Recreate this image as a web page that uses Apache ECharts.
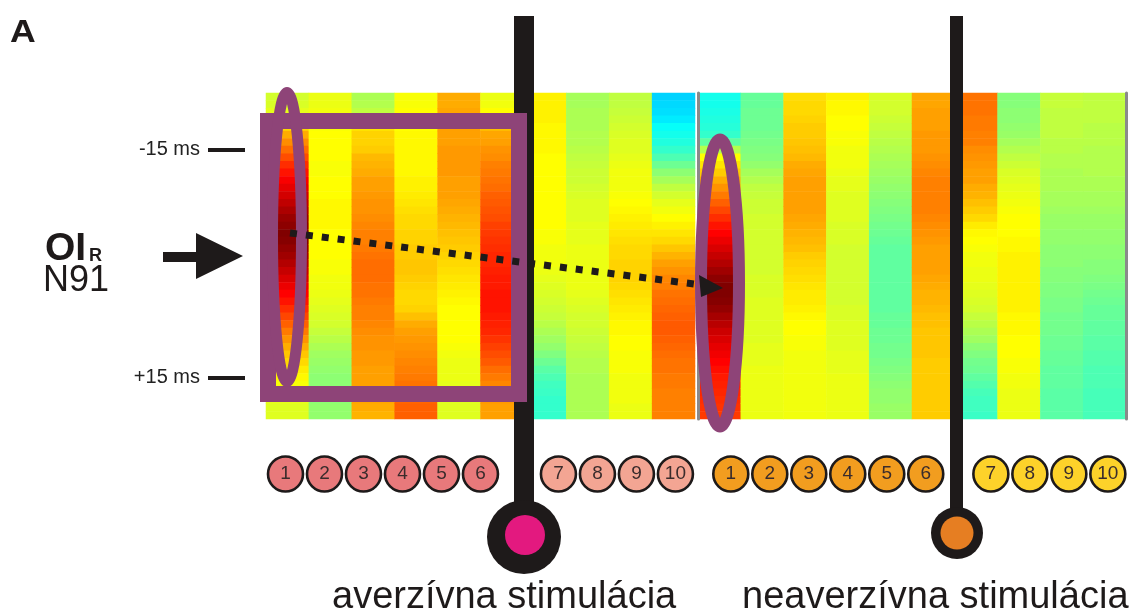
<!DOCTYPE html>
<html>
<head>
<meta charset="utf-8">
<script src="https://cdn.jsdelivr.net/npm/echarts@6/dist/echarts.min.js"></script>
<style>
  html, body { margin: 0; padding: 0; background: #ffffff; }
  #chart { width: 1130px; height: 612px; }
</style>
</head>
<body>
<div id="chart"></div>
<script>
// Time bins (ms) of the cross-correlogram, one heatmap row per bin
const timeBins = [-22, -21, -20, -19, -18, -17, -16, -15, -14, -13, -12, -11, -10, -9, -8, -7, -6, -5, -4, -3, -2,
  -1, 0, 1, 2, 3, 4, 5, 6, 7, 8, 9, 10, 11, 12, 13, 14, 15, 16, 17, 18, 19, 20];

// Session numbers shown under each block
const sessions = ['1', '2', '3', '4', '5', '6', '7', '8', '9', '10'];

// Labelled time ticks
const tickBins = [-15, 15];

// Normalised correlation per session (columns) and time bin (rows) – aversive stimulation block
const aversive = [
  [33,34,36,40,46,53,58,63,68,73,77,81,84,87,90,93,96,98,100,99,97,95,92,89,86,83,80,77,73,69,65,61,57,53,49,46,43,41,39,37,36,35,35],
  [37,37,38,39,39,40,40,40,40,39,39,40,40,40,41,41,41,41,40,40,40,40,39,39,38,38,37,36,35,34,33,31,29,27,25,24,23,22,22,22,22,23,23],
  [27,28,30,38,44,47,47,48,51,52,53,55,55,56,57,57,58,59,60,60,61,62,63,63,63,62,62,61,60,60,59,58,57,57,56,56,55,55,55,54,54,53,52],
  [39,39,40,40,40,41,41,41,41,41,41,42,42,43,44,45,46,46,47,47,48,48,49,49,48,47,46,46,47,50,53,55,56,57,58,59,60,61,62,63,64,65,65],
  [53,53,54,55,55,55,55,56,56,56,56,55,55,55,54,53,52,51,50,49,48,47,46,45,44,43,42,41,40,40,40,40,40,39,38,37,37,37,36,36,35,35,35],
  [37,38,40,45,50,54,55,57,58,60,61,62,63,65,66,67,68,70,71,72,73,74,74,75,76,76,77,77,77,76,75,74,72,70,68,66,63,61,59,57,56,55,55],
  [42,42,42,42,41,41,41,41,40,40,40,40,40,40,40,40,40,40,39,39,38,38,38,37,36,35,34,33,32,31,29,27,25,23,20,17,14,12,10,9,8,8,8],
  [26,26,27,27,27,28,28,29,30,31,32,32,33,34,35,35,35,36,36,36,37,37,37,37,37,37,36,35,34,33,33,32,31,30,29,28,28,27,27,27,27,27,27],
  [30,30,31,32,33,34,35,35,36,37,38,38,38,39,40,41,42,43,44,45,46,46,47,47,47,46,45,44,43,42,41,41,40,40,39,39,39,38,38,38,38,37,37],
  [-7,-6,-5,-3,1,3,5,8,12,17,22,26,30,33,36,38,40,42,44,46,49,52,55,57,59,60,62,63,64,65,66,66,65,64,63,62,62,61,61,60,60,60,60]
];

// Same layout – non-aversive stimulation block
const nonAversive = [
  [3,3,4,5,6,8,15,28,40,44,48,53,57,61,65,69,73,77,80,83,86,89,92,95,98,100,100,99,97,94,91,88,86,84,82,80,78,76,75,74,73,72,71],
  [16,16,17,17,17,18,19,20,21,23,26,28,30,31,32,32,33,33,33,33,33,33,33,33,34,34,34,35,35,35,35,35,35,36,36,36,37,37,37,37,37,37,37],
  [45,46,46,47,48,48,49,50,51,53,54,55,55,55,55,55,54,53,52,51,50,48,47,46,45,44,43,43,42,41,40,40,39,39,38,38,38,38,38,38,38,38,38],
  [42,41,41,40,40,39,39,38,38,38,37,36,36,35,35,35,35,34,34,34,33,33,33,33,33,33,33,33,34,34,35,35,35,35,36,36,36,37,37,37,37,37,37],
  [34,33,33,32,31,30,29,28,27,26,25,24,23,22,21,20,19,18,17,16,15,15,15,15,15,15,15,15,15,16,16,17,17,18,18,19,20,21,22,23,23,24,24],
  [54,54,55,55,55,56,56,56,57,58,59,60,60,60,60,60,59,58,57,56,55,55,55,55,54,53,52,52,51,50,50,49,49,49,49,48,48,48,48,48,48,48,48],
  [62,62,62,61,61,60,60,58,57,56,55,55,53,52,50,48,46,43,41,40,39,38,38,37,37,36,35,34,33,31,29,27,25,22,20,18,17,15,13,11,10,10,9],
  [21,21,22,22,23,24,26,28,30,32,34,35,36,37,38,39,40,40,40,41,41,42,42,42,42,42,42,42,42,41,41,41,40,40,40,39,39,38,38,37,37,37,37],
  [31,31,30,30,30,30,29,29,28,28,27,27,27,26,26,25,24,24,23,23,22,22,22,21,21,20,20,19,19,18,18,18,17,17,16,16,15,15,15,14,14,14,14],
  [30,30,30,30,29,29,29,28,28,28,28,27,27,26,26,25,24,24,23,23,22,22,21,21,20,19,18,17,16,16,15,15,14,14,13,13,12,12,12,11,11,11,11]
];

// ---- layout / style constants ----
const FONT = '"Liberation Sans", Arial, Helvetica, sans-serif';
const INK = '#1e1a1a';
const PURPLE = '#8e4478';
const GRID_TOP = 93, GRID_H = 326;

function cells(block) {
  const out = [];
  block.forEach((col, c) => col.forEach((v, r) => out.push([c, r, v])));
  return out;
}

// bead row: one slot per session, a gap after session 6
const beadColorsAversive = ['#e8797b', '#f3a593'];
const beadColorsNonAversive = ['#f29d1f', '#fdd22a'];
function beads(offset, gap, colors) {
  return sessions.map((s, i) => {
    const k = i + 1;
    return {
      name: s,
      value: [offset + i + (k > 6 ? gap : 0), 0],
      itemStyle: { color: k > 6 ? colors[1] : colors[0] }
    };
  });
}

const chart = echarts.init(document.getElementById('chart'), null, { renderer: 'canvas' });

const isTick = (idx) => tickBins.indexOf(timeBins[idx]) !== -1;

const option = {
  backgroundColor: '#ffffff',
  animation: false,
  grid: [
    { left: 266, top: GRID_TOP, width: 429, height: GRID_H },
    { left: 698, top: GRID_TOP, width: 428, height: GRID_H },
    { left: 266, top: 455, width: 859, height: 38 }
  ],
  xAxis: [
    { type: 'category', gridIndex: 0, data: sessions, show: false },
    { type: 'category', gridIndex: 1, data: sessions, show: false },
    { type: 'value', gridIndex: 2, min: -0.5, max: 21.53, show: false }
  ],
  yAxis: [
    {
      type: 'category', gridIndex: 0, data: timeBins, inverse: true, offset: 21, z: 10,
      axisLine: { show: false },
      axisTick: { show: true, alignWithLabel: true, interval: isTick, length: 37,
                  lineStyle: { color: INK, width: 4 } },
      axisLabel: { show: true, interval: isTick, margin: 45, fontFamily: FONT, fontSize: 20, color: '#222',
                   formatter: (v) => (Number(v) > 0 ? '+' + v : v) + ' ms' },
      splitLine: { show: false }
    },
    {
      type: 'category', gridIndex: 1, data: timeBins, inverse: true, position: 'left', z: 10,
      axisLine: { show: true, lineStyle: { color: '#8a8a8a', width: 3 } },
      axisTick: { show: false }, axisLabel: { show: false }, splitLine: { show: false }
    },
    {
      type: 'category', gridIndex: 1, data: timeBins, inverse: true, position: 'right', z: 10,
      axisLine: { show: true, lineStyle: { color: '#8a8a8a', width: 3 } },
      axisTick: { show: false }, axisLabel: { show: false }, splitLine: { show: false }
    },
    { type: 'value', gridIndex: 2, min: -1, max: 1, show: false }
  ],
  visualMap: {
    type: 'continuous', show: false, dimension: 2, seriesIndex: [0, 1],
    min: -20, max: 100,
    inRange: { color: ['#0080ff', '#00ffff', '#80ff80', '#ffff00', '#ff8000', '#ff0000', '#800000'] }
  },
  series: [
    {
      name: 'averzívna', type: 'heatmap', xAxisIndex: 0, yAxisIndex: 0,
      data: cells(aversive), itemStyle: { borderWidth: 0 }, emphasis: { disabled: true }
    },
    {
      name: 'neaverzívna', type: 'heatmap', xAxisIndex: 1, yAxisIndex: 1,
      data: cells(nonAversive), itemStyle: { borderWidth: 0 }, emphasis: { disabled: true }
    },
    {
      name: 'sessions', type: 'scatter', xAxisIndex: 2, yAxisIndex: 3,
      symbol: 'circle', symbolSize: 35, z: 5,
      data: beads(0, 1, beadColorsAversive).concat(beads(11.42, 0.67, beadColorsNonAversive)),
      itemStyle: { borderColor: INK, borderWidth: 2.6, opacity: 1 },
      label: { show: true, position: 'inside', formatter: '{b}', fontFamily: FONT, fontSize: 19, color: '#3a2c2c' },
      emphasis: { disabled: true }
    }
  ],
  graphic: [
    // panel letter
    { type: 'text', z: 100, x: 10, y: 33, scaleX: 1.15,
      style: { x: 0, y: 0, text: 'A', font: 'bold 31px ' + FONT, fill: INK, verticalAlign: 'middle' } },
    // neuron pair label
    { type: 'text', z: 100, style: { x: 45, y: 249, text: 'OI', font: 'bold 39px ' + FONT, fill: INK, verticalAlign: 'middle' } },
    { type: 'text', z: 100, style: { x: 89, y: 256, text: 'R', font: 'bold 18px ' + FONT, fill: INK, verticalAlign: 'middle' } },
    { type: 'text', z: 100, style: { x: 43, y: 281, text: 'N91', font: '36px ' + FONT, fill: INK, verticalAlign: 'middle' } },
    // pointer arrow
    { type: 'polygon', z: 100, shape: { points: [[163, 252], [196, 252], [196, 233], [243, 256], [196, 279], [196, 262], [163, 262]] },
      style: { fill: INK } },
    // stimulation markers
    { type: 'rect', z: 100, shape: { x: 514, y: 16, width: 20, height: 510 }, style: { fill: INK } },
    { type: 'circle', z: 100, shape: { cx: 524, cy: 537, r: 37 }, style: { fill: INK } },
    { type: 'circle', z: 101, shape: { cx: 525, cy: 535, r: 20 }, style: { fill: '#e3197f' } },
    { type: 'rect', z: 100, shape: { x: 950, y: 16, width: 13, height: 510 }, style: { fill: INK } },
    { type: 'circle', z: 100, shape: { cx: 957, cy: 533, r: 26 }, style: { fill: INK } },
    { type: 'circle', z: 101, shape: { cx: 957, cy: 533, r: 16.5 }, style: { fill: '#e67e22' } },
    // highlight frames
    { type: 'rect', z: 110, shape: { x: 268, y: 121, width: 251, height: 273 },
      style: { fill: null, stroke: PURPLE, lineWidth: 16 } },
    { type: 'ellipse', z: 110, shape: { cx: 287, cy: 237, rx: 14.5, ry: 144.5 },
      style: { fill: null, stroke: PURPLE, lineWidth: 11 } },
    { type: 'ellipse', z: 110, shape: { cx: 720, cy: 283, rx: 19, ry: 143.5 },
      style: { fill: null, stroke: PURPLE, lineWidth: 12 } },
    // shift of the correlation peak
    { type: 'line', z: 120, shape: { x1: 290, y1: 233, x2: 702, y2: 285 },
      style: { stroke: INK, lineWidth: 7, lineDash: [7, 9], lineCap: 'butt' } },
    { type: 'polygon', z: 120, shape: { points: [[723, 288], [699, 275], [701, 297]] }, style: { fill: INK } },
    // block titles
    { type: 'text', z: 100, style: { x: 332, y: 598, text: 'averzívna stimulácia', font: '38px ' + FONT, fill: INK, verticalAlign: 'middle' } },
    { type: 'text', z: 100, style: { x: 742, y: 598, text: 'neaverzívna stimulácia', font: '38px ' + FONT, fill: INK, verticalAlign: 'middle' } }
  ]
};

chart.setOption(option);
</script>
</body>
</html>
